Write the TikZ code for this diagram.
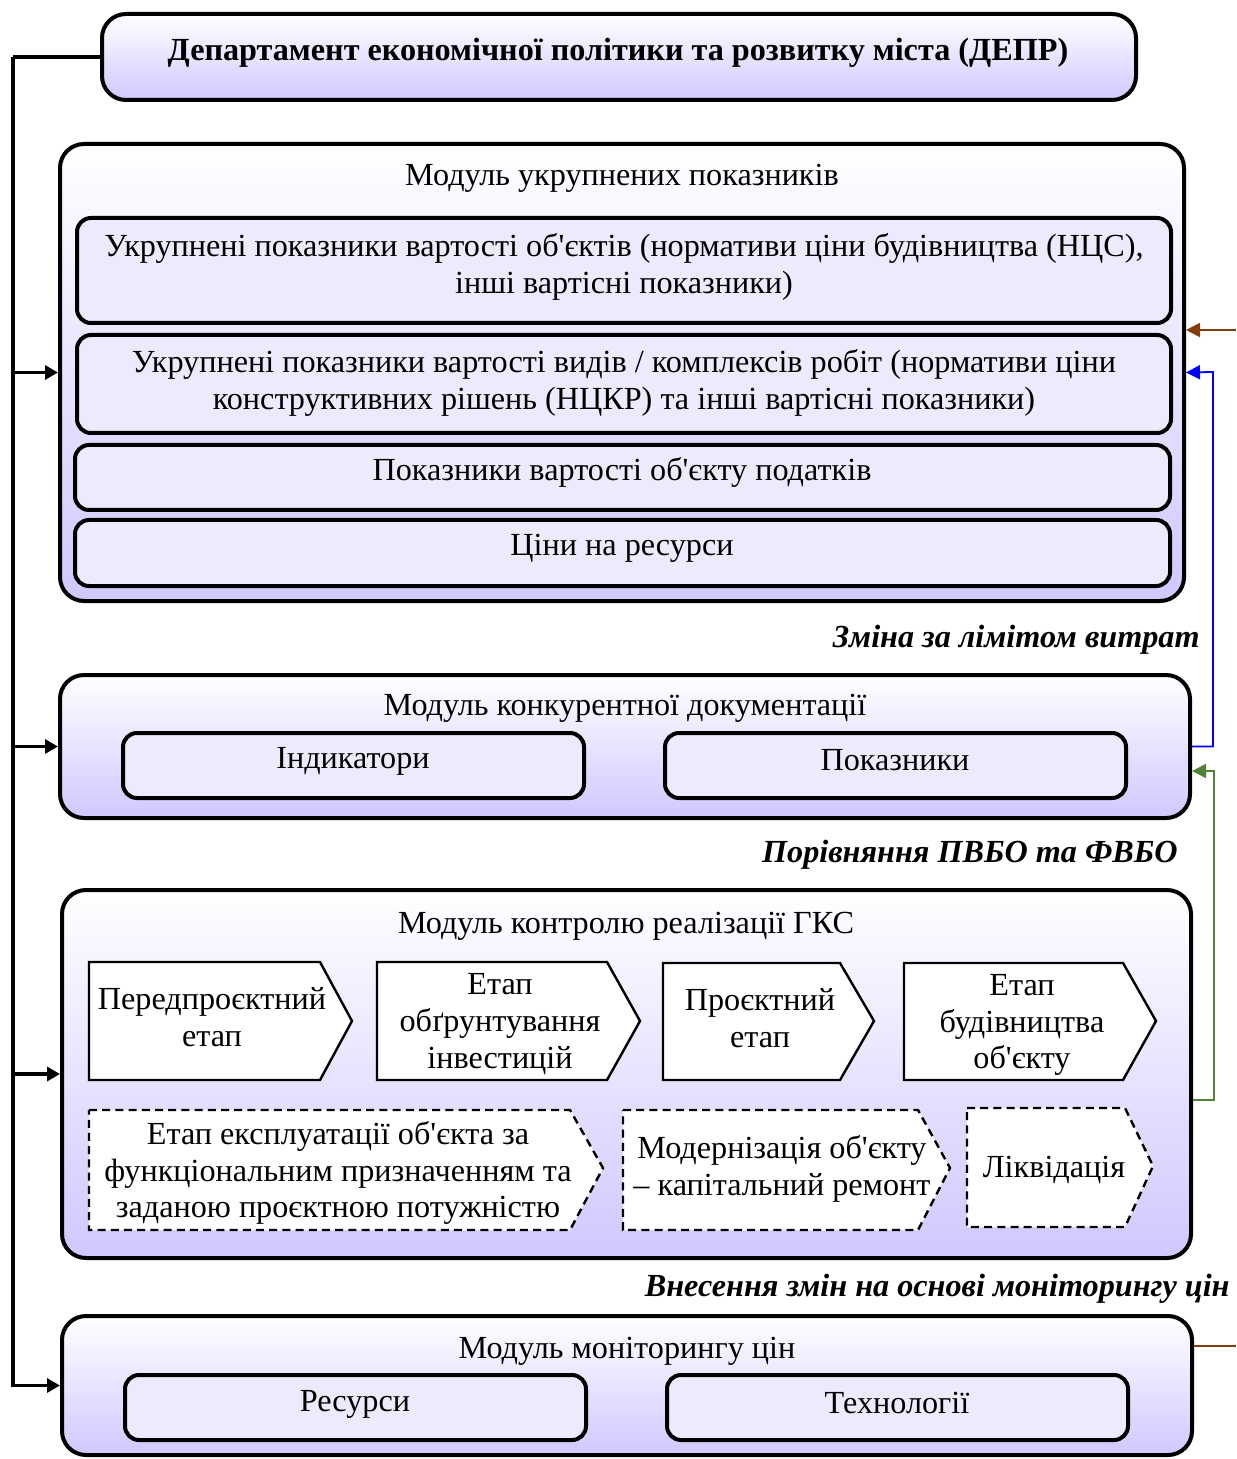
\documentclass[tikz,border=0pt]{standalone}
\usepackage{fontspec}
\setmainfont{Liberation Serif}[Ligatures=TeXOff]
\usetikzlibrary{arrows.meta,fit,calc}
\definecolor{lav}{RGB}{208,200,255}
\definecolor{innerc}{RGB}{237,234,253}
\definecolor{brownc}{RGB}{132,60,12}
\definecolor{greenc}{RGB}{84,130,53}
\newcommand{\fsz}{\fontsize{16.1}{18.4}\selectfont}
\begin{document}
\begin{tikzpicture}[x=0.5pt,y=-0.5pt,font=\fsz,
  module/.style={draw,line width=2pt,rounded corners=12pt,top color=white,bottom color=lav,inner sep=0pt},
  ibox/.style={draw,line width=2pt,rounded corners=7pt,fill=innerc,inner sep=0pt},
  chev/.style={draw,fill=white,line width=1.2pt,line join=miter},
  dchev/.style={chev,dash pattern=on 4pt off 2.6pt},
  txt/.style={inner sep=0pt,align=center},
  lab/.style={inner sep=0pt,font=\fsz\bfseries\itshape},
  conn/.style={line width=1.6pt,-{Triangle[length=6.5pt,width=7pt]}},
  plain/.style={line width=1.6pt},
  carrow/.style={line width=0.9pt,-{Triangle[length=7pt,width=7pt]}}
]
\useasboundingbox (0,0) rectangle (1236,1459);

% title
\node[module,fit={(102,14)(1136,100)}] (title) {};
\node[txt,font=\fsz\bfseries] (titlet) at (618,53) {Департамент економічної політики та розвитку міста (ДЕПР)};

% module 1
\node[module,fit={(60,144)(1184,601)}] (m1) {};
\node[txt] (m1t) at (622,178) {Модуль укрупнених показників};
\node[ibox,fit={(77,218)(1171,323)}] (b1) {};
\node[txt] (b1t) at (624,267) {Укрупнені показники вартості об'єктів (нормативи ціни будівництва (НЦС),\\інші вартісні показники)};
\node[ibox,fit={(77,335)(1171,433)}] (b2) {};
\node[txt] (b2t) at (624,383) {Укрупнені показники вартості видів / комплексів робіт (нормативи ціни\\конструктивних рішень (НЦКР) та інші вартісні показники)};
\node[ibox,fit={(75,445)(1170,510)}] (b3) {};
\node[txt] (b3t) at (622,472) {Показники вартості об'єкту податків};
\node[ibox,fit={(75,520)(1170,586)}] (b4) {};
\node[txt] (b4t) at (622,548) {Ціни на ресурси};

\node[lab,anchor=east] (l1) at (1200,640) {Зміна за лімітом витрат};

% module 2
\node[module,fit={(60,675)(1190,818)}] (m2) {};
\node[txt] (m2t) at (625,708) {Модуль конкурентної документації};
\node[ibox,fit={(123,733)(584,798)}] (i1) {};
\node[txt] (i1t) at (353,761) {Індикатори};
\node[ibox,fit={(665,733)(1126,798)}] (i2) {};
\node[txt] (i2t) at (895,760) {Показники};

\node[lab,anchor=east] (l2) at (1178,855) {Порівняння ПВБО та ФВБО};

% module 3
\node[module,fit={(62,890)(1191,1258)}] (m3) {};
\node[txt] (m3t) at (626,926) {Модуль контролю реалізації ГКС};

\draw[chev] (89,962) -- (320,962) -- (352,1021) -- (320,1080) -- (89,1080) -- cycle;
\draw[chev] (377,962) -- (607,962) -- (640,1021) -- (607,1080) -- (377,1080) -- cycle;
\draw[chev] (663,963) -- (840,963) -- (874,1021) -- (840,1080) -- (663,1080) -- cycle;
\draw[chev] (904,963) -- (1123,963) -- (1156,1021) -- (1123,1080) -- (904,1080) -- cycle;
\draw[dchev] (89,1110) -- (570,1110) -- (603,1168) -- (570,1230) -- (89,1230) -- cycle;
\draw[dchev] (623,1110) -- (918,1110) -- (950,1168) -- (918,1230) -- (623,1230) -- cycle;
\draw[dchev] (967,1108) -- (1125,1108) -- (1153,1166) -- (1125,1227) -- (967,1227) -- cycle;

\node[txt] (c1) at (212,1017) {Передпроєктний\\етап};
\node[txt] (c2) at (500,1024) {Етап\\обґрунтування\\інвестицій};
\node[txt] (c3) at (760,1018) {Проєктний\\етап};
\node[txt] (c4) at (1022,1025) {Етап\\будівництва\\об'єкту};
\node[txt] (d1) at (338,1173) {Етап експлуатації об'єкта за\\функціональним призначенням та\\заданою проєктною потужністю};
\node[txt] (d2) at (782,1169) {Модернізація об'єкту\\– капітальний ремонт};
\node[txt] (d3) at (1054,1170) {Ліквідація};

\node[lab,anchor=east] (l3) at (1230,1289) {Внесення змін на основі моніторингу цін};

% module 4
\node[module,fit={(62,1316)(1192,1455)}] (m4) {};
\node[txt] (m4t) at (627,1351) {Модуль моніторингу цін};
\node[ibox,fit={(125,1375)(586,1440)}] (r1) {};
\node[txt] (r1t) at (355,1404) {Ресурси};
\node[ibox,fit={(667,1375)(1128,1440)}] (r2) {};
\node[txt] (r2t) at (897,1403) {Технології};

% left trunk
\coordinate (tk) at (13,57);
\draw[plain] (title.west) -- (tk);
\draw[conn] (tk) |- (m4.west);
\draw[conn] (tk |- m1.west) -- (m1.west);
\draw[conn] (tk |- m2.west) -- (m2.west);
\draw[conn] (tk |- m3.west) -- (m3.west);

% right connectors
\coordinate (br1) at (1236,330);
\draw[carrow,brownc] (br1) -- (m1.east |- br1);
\coordinate (bl) at (1213,372);
\draw[carrow,blue] (m2.east) -| (bl) -- (m1.east);
\coordinate (g1) at (1214,1100);
\coordinate (g2) at (1214,771);
\draw[carrow,greenc] (m3.east |- g1) -- (g1) -- (g2) -- (m2.east |- g2);
\coordinate (br2) at (1236,1346);
\draw[line width=0.9pt,brownc] (m4.east |- br2) -- (br2);
\end{tikzpicture}
\end{document}
